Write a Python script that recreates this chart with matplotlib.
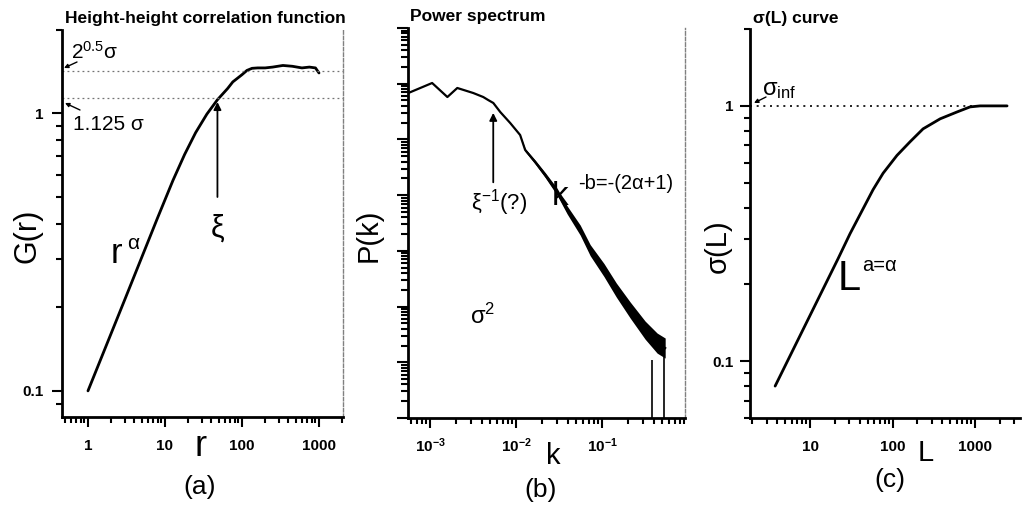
import numpy as np
import matplotlib
matplotlib.use("Agg")
import matplotlib.pyplot as plt
from matplotlib.patches import FancyArrowPatch
from matplotlib.ticker import LogLocator, NullFormatter, FixedLocator, FixedFormatter

plt.rcParams['font.family'] = ['Liberation Sans', 'DejaVu Sans']
plt.rcParams['mathtext.fontset'] = 'custom'
plt.rcParams['mathtext.rm'] = 'Liberation Sans'
plt.rcParams['mathtext.it'] = 'Liberation Sans'
plt.rcParams['mathtext.sf'] = 'Liberation Sans'
plt.rcParams['mathtext.bf'] = 'Liberation Sans:bold'

# ---- (a) height-height correlation function G(r) ----
r_vals = [1, 3, 8, 12.7, 18, 25, 35, 48, 65, 76, 100, 116, 135, 160, 200,
          250, 340, 450, 600, 750, 900, 1000]
G_vals = [0.100, 0.213, 0.420, 0.574, 0.712, 0.853, 0.995, 1.121, 1.23, 1.30,
          1.38, 1.43, 1.455, 1.46, 1.46, 1.47, 1.49, 1.48, 1.46, 1.47, 1.46, 1.40]
sigma_a = 1.01          # saturation roughness
xi_a = 48               # correlation length
a_xticks = [1, 10, 100, 1000]
a_xticklabels = ['1', '10', '100', '1000']
a_yticks = [0.1, 1]
a_yticklabels = ['0.1', '1']

# ---- (b) power spectrum P(k) ----
k_vals = [5.55e-4, 1.05e-3, 1.58e-3, 2.06e-3, 3.16e-3, 4.13e-3, 4.72e-3,
          5.41e-3, 6.52e-3, 8.51e-3, 1.11e-2, 1.27e-2, 1.66e-2, 2.17e-2,
          3.00e-2, 3.92e-2, 5.55e-2, 7.25e-2, 0.105, 0.146, 0.212, 0.316,
          0.436, 0.541]
P_vals = [681, 1030, 577, 838, 681, 577, 509, 451, 310, 197, 120, 64.6, 39.3,
          23.0, 11.4, 5.40, 2.36, 1.03, 0.452, 0.198, 0.0865, 0.0378, 0.0221,
          0.0180]
# half-width of the scatter band around P(k), in decades
P_spread = [0, 0, 0, 0, 0, 0, 0, 0, 0, 0, 0, 0.027, 0.036, 0.045, 0.063,
            0.072, 0.090, 0.099, 0.117, 0.126, 0.144, 0.162, 0.180, 0.180]
k_cut = [0.381, 0.526]
P_cut = [0.011, 0.013]
xi_inv = 5.4e-3
b_xticks = [1e-3, 1e-2, 1e-1]
b_xticklabels = [r'$\mathbf{10}^{\mathbf{-3}}$', r'$\mathbf{10}^{\mathbf{-2}}$',
                 r'$\mathbf{10}^{\mathbf{-1}}$']

# ---- (c) sigma(L) curve ----
L_vals = [3.77, 21.8, 30.5, 42.7, 58.0, 76.7, 113, 163, 234, 377, 605, 869,
          1150, 2440]
sL_vals = [0.080, 0.252, 0.316, 0.389, 0.470, 0.545, 0.640, 0.724, 0.813,
           0.890, 0.947, 0.991, 1.0, 1.0]
sigma_inf = 1.0
c_xticks = [10, 100, 1000]
c_xticklabels = ['10', '100', '1000']
c_yticks = [0.1, 1]
c_yticklabels = ['0.1', '1']

W, H = 1025, 508
fig = plt.figure(figsize=(W / 100, H / 100), dpi=100)


def box(l, t, r, b):
    return [l / W, 1 - b / H, (r - l) / W, (b - t) / H]


def fx(x):
    return x / W


def fy(y):
    return 1 - y / H


def style(ax, dashed_right=True):
    ax.set_xscale('log')
    ax.set_yscale('log')
    ax.spines['top'].set_visible(False)
    for s in ('left', 'bottom'):
        ax.spines[s].set_linewidth(2.0)
    if dashed_right:
        ax.spines['right'].set_linestyle((0, (2.5, 1.5)))
        ax.spines['right'].set_color('0.5')
        ax.spines['right'].set_linewidth(1.0)
    else:
        ax.spines['right'].set_visible(False)
    ax.tick_params(which='both', direction='out', top=False, right=False,
                   width=1.5, labelsize=11)
    ax.tick_params(which='major', length=7)
    ax.tick_params(which='minor', length=4)
    ax.xaxis.set_minor_locator(LogLocator(base=10, subs=np.arange(2, 10), numticks=30))
    ax.yaxis.set_minor_locator(LogLocator(base=10, subs=np.arange(2, 10), numticks=30))
    ax.xaxis.set_minor_formatter(NullFormatter())
    ax.yaxis.set_minor_formatter(NullFormatter())


def set_ticks(axis, ticks, labels):
    axis.set_major_locator(FixedLocator(ticks))
    axis.set_major_formatter(FixedFormatter(labels))


def fig_arrow(x0, y0, x1, y1, **kw):
    fig.add_artist(FancyArrowPatch((fx(x0), fy(y0)), (fx(x1), fy(y1)),
                                   transform=fig.transFigure, **kw))


arrow_kw = dict(arrowstyle='-|>', color='k', lw=1.3, mutation_scale=11,
                shrinkA=0, shrinkB=0)
small_arrow = dict(arrowstyle='-|>', color='k', lw=1.0, mutation_scale=6,
                   shrinkA=0, shrinkB=0)

# ================= (a) =================
ax = fig.add_axes(box(62, 30, 343, 417))
style(ax)
ax.set_xlim(0.46, 2050)
ax.set_ylim(0.0805, 2.0)
set_ticks(ax.xaxis, a_xticks, a_xticklabels)
set_ticks(ax.yaxis, a_yticks, a_yticklabels)
ax.tick_params(axis='x', pad=9)
ax.tick_params(axis='y', pad=6)
for t in ax.get_xticklabels() + ax.get_yticklabels():
    t.set_fontweight('bold')
ax.plot(r_vals, G_vals, color='k', lw=2.0, solid_capstyle='round',
        solid_joinstyle='round')
for lev in (2 ** 0.5 * sigma_a, 1.125 * sigma_a):
    ax.axhline(lev, color='0.45', lw=0.9, ls=(0, (1.5, 2.5)))
ax.annotate('', xy=(xi_a, 1.10), xytext=(xi_a, 0.50), arrowprops=arrow_kw)
ax.text(xi_a, 0.385, 'ξ', fontsize=22, ha='center', va='center')

fig.text(fx(65), fy(19), 'Height-height correlation function', fontsize=12.5,
         weight='bold', ha='left', va='center')
fig.text(fx(71), fy(52), r'$2^{0.5}σ$', fontsize=15, ha='left', va='center')
fig.text(fx(73), fy(125), '1.125 σ', fontsize=15, ha='left', va='center')
fig_arrow(77, 62, 64, 68, **small_arrow)
fig_arrow(80, 110, 65, 103, **small_arrow)
fig.text(fx(111), fy(263), 'r', fontsize=25, ha='left', va='baseline')
fig.text(fx(127), fy(249), 'α', fontsize=15, ha='left', va='baseline')
fig.text(fx(27), fy(236), 'G(r)', fontsize=22, rotation=90, ha='center', va='center')
fig.text(fx(201), fy(446), 'r', fontsize=26, ha='center', va='center')
fig.text(fx(200), fy(487), '(a)', fontsize=19, ha='center', va='center')

# ================= (b) =================
ax = fig.add_axes(box(408, 28, 685, 418))
style(ax)
ax.set_xlim(5.5e-4, 0.92)
ax.set_ylim(1e-3, 1e4)
set_ticks(ax.xaxis, b_xticks, b_xticklabels)
ax.yaxis.set_major_locator(LogLocator(base=10, numticks=30))
ax.yaxis.set_major_formatter(NullFormatter())
ax.tick_params(axis='x', pad=6)
ax.tick_params(axis='y', which='major', length=8)
ax.tick_params(axis='y', which='minor', length=5)
kb = np.array(k_vals)
Pb = np.array(P_vals)
spread = 10 ** np.array(P_spread)
ax.fill_between(kb, Pb / spread, Pb * spread, color='k', lw=0)
ax.plot(kb, Pb, color='k', lw=1.6)
ax.vlines(k_cut, 1e-3, P_cut, color='k', lw=1.2)
ax.annotate('', xy=(xi_inv, 300), xytext=(xi_inv, 17), arrowprops=arrow_kw)

fig.text(fx(410), fy(17), 'Power spectrum', fontsize=12.5, weight='bold',
         ha='left', va='center')
fig.text(fx(471), fy(203), r'ξ$^{-1}$(?)', fontsize=16, ha='left', va='center')
fig.text(fx(552), fy(205), 'k', fontsize=24, ha='left', va='baseline')
fig.text(fx(578), fy(189), '-b=-(2α+1)', fontsize=14.5, ha='left', va='baseline')
fig.text(fx(470), fy(316), r'σ$^2$', fontsize=17, ha='left', va='center')
fig.text(fx(369), fy(235), 'P(k)', fontsize=21, rotation=90, ha='center', va='center')
fig.text(fx(553), fy(456), 'k', fontsize=21, ha='center', va='center')
fig.text(fx(541), fy(490), '(b)', fontsize=19, ha='center', va='center')

# ================= (c) =================
ax = fig.add_axes(box(750, 29, 1020, 418))
style(ax, dashed_right=False)
ax.set_xlim(1.87, 3500)
ax.set_ylim(0.060, 2.0)
set_ticks(ax.xaxis, c_xticks, c_xticklabels)
set_ticks(ax.yaxis, c_yticks, c_yticklabels)
ax.tick_params(axis='x', pad=9)
ax.tick_params(axis='y', pad=5)
for t in ax.get_xticklabels() + ax.get_yticklabels():
    t.set_fontweight('bold')
ax.plot(L_vals, sL_vals, color='k', lw=2.0, solid_capstyle='round',
        solid_joinstyle='round')
ax.plot([1.87, 2500], [sigma_inf, sigma_inf], color='k', lw=1.2, ls=(0, (1.2, 2.8)))

fig.text(fx(753), fy(19), 'σ(L) curve', fontsize=12.5, weight='bold',
         ha='left', va='center')
fig.text(fx(762), fy(90), r'$σ_{inf}$', fontsize=17, ha='left', va='center')
fig_arrow(766, 97, 754, 103, **small_arrow)
fig.text(fx(838), fy(290), 'L', fontsize=30, ha='left', va='baseline')
fig.text(fx(862), fy(271), 'a=α', fontsize=14.5, ha='left', va='baseline')
fig.text(fx(718), fy(246), 'σ(L)', fontsize=21, rotation=90, ha='center', va='center')
fig.text(fx(926), fy(453), 'L', fontsize=21, ha='center', va='center')
fig.text(fx(890), fy(480), '(c)', fontsize=19, ha='center', va='center')

fig.savefig('out.png', dpi=100)
